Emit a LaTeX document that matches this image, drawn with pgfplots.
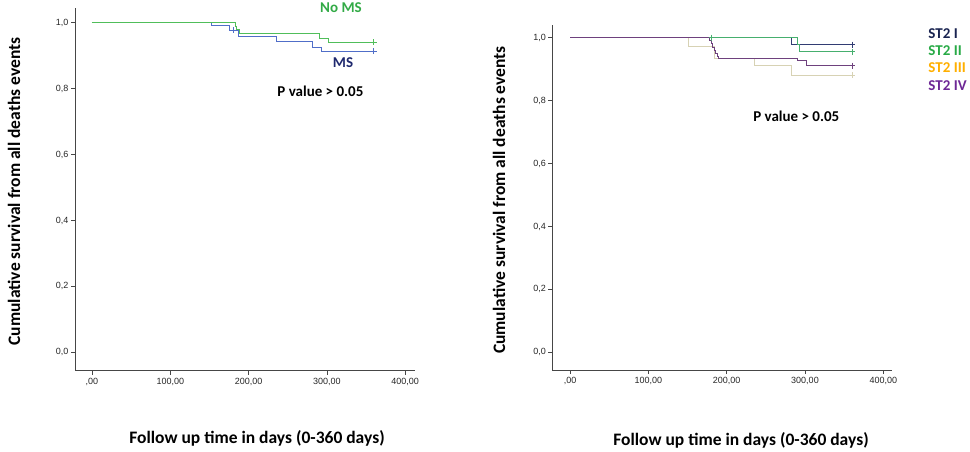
\documentclass[border=0pt]{standalone}
\usepackage{fontspec}
\setmainfont{Carlito}
\newfontfamily\arialf{Liberation Sans}
\usepackage{pgfplots}
\pgfplotsset{compat=1.18}
\definecolor{gLine}{RGB}{80,190,90}
\definecolor{bLine}{RGB}{80,110,200}
\definecolor{gText}{RGB}{50,170,70}
\definecolor{bText}{RGB}{30,40,110}
\definecolor{nLine}{RGB}{50,60,115}
\definecolor{grLine}{RGB}{70,175,110}
\definecolor{beLine}{RGB}{215,210,180}
\definecolor{puLine}{RGB}{110,65,125}
\definecolor{t1}{RGB}{25,35,80}
\definecolor{t2}{RGB}{40,170,70}
\definecolor{t3}{RGB}{255,175,0}
\definecolor{t4}{RGB}{110,40,150}
\definecolor{axc}{RGB}{70,70,70}
\tikzset{lab/.style={font=\bfseries\fontsize{17.5}{20}\selectfont, inner sep=0pt},
  ann/.style={font=\bfseries\fontsize{15}{18}\selectfont, inner sep=0pt}}
\pgfplotsset{
  km/.style={
    scale only axis,
    axis lines=left,
    axis line style={-, color=axc, line width=1pt},
    tick align=outside,
    major tick length=4pt,
    tick style={color=axc, line width=0.8pt},
    ytick={0,0.2,0.4,0.6,0.8,1.0},
    yticklabels={{0,0},{0,2},{0,4},{0,6},{0,8},{1,0}},
    xtick={0,100,200,300,400},
    xticklabels={{,00},{100,00},{200,00},{300,00},{400,00}},
    ticklabel style={font=\arialf\fontsize{9}{10}\selectfont, text=black!85},
    yticklabel style={xshift=1pt},
    clip=false,
  },
}
\begin{document}
\begin{tikzpicture}
\path[use as bounding box] (0,0) rectangle (970pt,451pt);
% left panel
\begin{axis}[km, at={(75pt,80.3pt)}, anchor=south west,
  width=340pt, height=362.7pt,
  xmin=-21.7, xmax=412.5, ymin=-0.056, ymax=1.045]
\addplot[const plot, color=bLine, line width=0.9pt] coordinates {
 (0,1) (152,0.992) (176,0.978) (187,0.958) (236,0.944) (281,0.925) (293,0.914) (360,0.914)};
\addplot[only marks, mark=+, mark size=3pt, color=bLine, line width=0.9pt] coordinates {(181,0.978) (360,0.914)};
\addplot[const plot, color=gLine, line width=0.9pt] coordinates {
 (0,1) (183,0.99) (185,0.98) (188,0.968) (290,0.953) (302,0.941) (360,0.941)};
\addplot[only marks, mark=+, mark size=3pt, color=gLine, line width=0.9pt] coordinates {(360,0.941)};
\node[ann, text=gText] at (axis cs:318,1.045) {No MS};
\node[ann, text=bText] at (axis cs:320.6,0.878) {MS};
\node[ann] at (axis cs:291.7,0.791) {P value > 0.05};
\end{axis}
% right panel
\begin{axis}[km, at={(552.3pt,81pt)}, anchor=south west,
  width=339.4pt, height=345pt,
  xmin=-22.6, xmax=410.7, ymin=-0.056, ymax=1.040]
\addplot[const plot, color=nLine, line width=0.9pt] coordinates {
 (0,1) (283,0.978) (360,0.978)};
\addplot[only marks, mark=+, mark size=3pt, color=nLine, line width=0.9pt] coordinates {(360,0.978)};
\addplot[const plot, color=grLine, line width=0.9pt] coordinates {
 (0,1) (290,0.978) (293,0.955) (360,0.955)};
\addplot[only marks, mark=+, mark size=3pt, color=grLine, line width=0.9pt] coordinates {(181,1) (360,0.955)};
\addplot[const plot, color=beLine, line width=0.9pt] coordinates {
 (0,1) (151,0.972) (184,0.934) (236,0.913) (283,0.881) (360,0.881)};
\addplot[only marks, mark=+, mark size=3pt, color=beLine, line width=0.9pt] coordinates {(360,0.881)};
\addplot[const plot, color=puLine, line width=0.9pt] coordinates {
 (0,1) (178,0.99) (180,0.98) (182,0.97) (184,0.96) (186,0.95) (188,0.94) (190,0.934) (291,0.926) (302,0.911) (360,0.911)};
\addplot[only marks, mark=+, mark size=3pt, color=puLine, line width=0.9pt] coordinates {(360,0.911)};
\node[ann, text=t1, anchor=west] at (axis cs:457.4,1.014) {ST2 I};
\node[ann, text=t2, anchor=west] at (axis cs:457.4,0.958) {ST2 II};
\node[ann, text=t3, anchor=west] at (axis cs:457.4,0.903) {ST2 III};
\node[ann, text=t4, anchor=west] at (axis cs:457.4,0.846) {ST2 IV};
\node[ann] at (axis cs:288.9,0.749) {P value > 0.05};
\end{axis}
% axis titles
\node[lab, rotate=90] at (14pt,259.5pt) {Cumulative survival from all deaths events};
\node[lab, rotate=90] at (499pt,251pt) {Cumulative survival from all deaths events};
\node[lab] at (257pt,13pt) {Follow up time in days (0-360 days)};
\node[lab] at (741pt,11pt) {Follow up time in days (0-360 days)};
\end{tikzpicture}
\end{document}
